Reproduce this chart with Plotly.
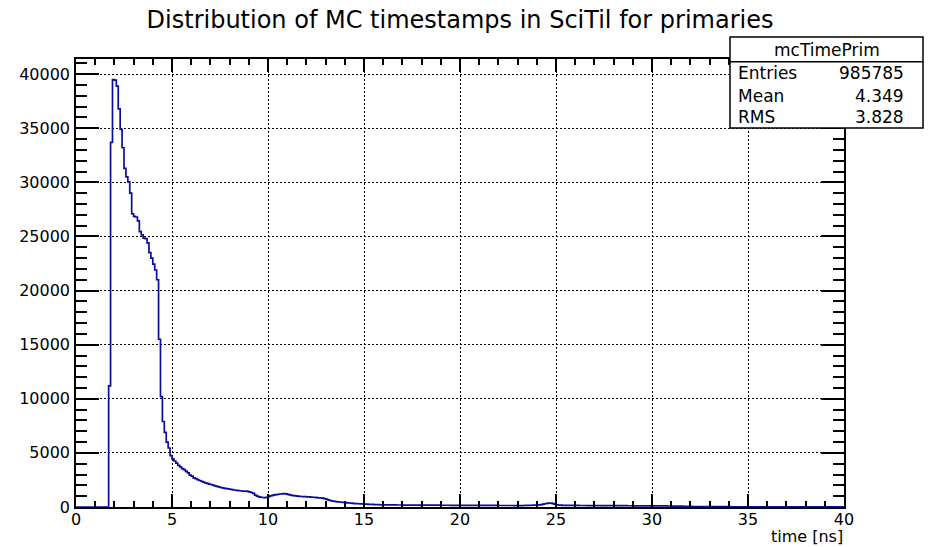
import plotly.graph_objects as go

# ---------------- data ----------------
bin_width = 0.1          # ns
x_min, x_max = 0.0, 40.0
y_max = 41400

# counts per 0.1 ns bin, one row per 1 ns
counts = [
    0, 0, 0, 0, 0, 0, 0, 0, 0, 0,                                  # 0-1
    0, 0, 0, 0, 0, 0, 0, 11200, 33700, 39500,                      # 1-2
    39450, 38900, 36800, 34900, 33200, 31300, 30500, 30050, 29000, 27100,  # 2-3
    26850, 26800, 26450, 25450, 25150, 24850, 24800, 24400, 23500, 23000,  # 3-4
    22450, 21900, 21000, 15500, 10200, 7900, 6900, 6000, 5450, 4750,       # 4-5
    4450, 4250, 4050, 3850, 3700, 3550, 3450, 3300, 3150, 2950,    # 5-6
    2850, 2700, 2620, 2530, 2450, 2380, 2300, 2230, 2180, 2120,    # 6-7
    2080, 2020, 1950, 1900, 1860, 1800, 1760, 1720, 1700, 1680,    # 7-8
    1640, 1600, 1570, 1550, 1520, 1500, 1480, 1470, 1460, 1440,    # 8-9
    1400, 1340, 1250, 1100, 1000, 930, 900, 880, 870, 890,         # 9-10
    960, 1030, 1080, 1120, 1150, 1180, 1200, 1220, 1230, 1210,     # 10-11
    1170, 1120, 1080, 1050, 1030, 1010, 990, 970, 960, 950,        # 11-12
    940, 930, 920, 900, 890, 870, 850, 840, 820, 780,              # 12-13
    720, 660, 600, 560, 530, 500, 480, 460, 440, 420,              # 13-14
    400, 380, 370, 350, 340, 320, 310, 300, 290, 280,              # 14-15
    270, 260, 250, 240, 235, 225, 220, 215, 210, 205,              # 15-16
    200, 198, 196, 194, 192, 190, 188, 187, 186, 185,              # 16-17
    184, 182, 181, 180, 179, 178, 177, 176, 175, 174,              # 17-18
    173, 172, 171, 170, 169, 168, 167, 166, 165, 164,              # 18-19
    163, 162, 161, 160, 160, 159, 158, 157, 156, 155,              # 19-20
    155, 154, 153, 152, 151, 150, 150, 149, 148, 147,              # 20-21
    147, 146, 145, 145, 144, 143, 143, 142, 141, 141,              # 21-22
    140, 140, 139, 139, 138, 138, 137, 137, 136, 136,              # 22-23
    136, 135, 135, 140, 145, 150, 155, 160, 170, 175,              # 23-24
    185, 200, 225, 260, 300, 340, 360, 350, 310, 260,              # 24-25
    210, 180, 165, 155, 150, 148, 146, 145, 144, 143,              # 25-26
    142, 141, 140, 139, 138, 137, 136, 135, 134, 133,              # 26-27
    132, 131, 130, 130, 129, 128, 127, 126, 125, 124,              # 27-28
    123, 122, 121, 120, 120, 119, 118, 117, 116, 115,              # 28-29
    114, 113, 112, 111, 110, 110, 109, 108, 107, 106,              # 29-30
    105, 104, 103, 102, 101, 100, 98, 96, 94, 92,                  # 30-31
    90, 88, 85, 82, 78, 74, 70, 65, 60, 55,                        # 31-32
    50, 46, 42, 40, 38, 36, 35, 34, 33, 32,                        # 32-33
    31, 30, 30, 29, 29, 28, 28, 27, 27, 26,                        # 33-34
    26, 25, 25, 25, 24, 24, 24, 23, 23, 23,                        # 34-35
    22, 22, 22, 21, 21, 21, 20, 20, 20, 20,                        # 35-36
    19, 19, 19, 19, 18, 18, 18, 18, 17, 17,                        # 36-37
    17, 17, 16, 16, 16, 16, 15, 15, 15, 15,                        # 37-38
    14, 14, 14, 14, 13, 13, 13, 13, 12, 12,                        # 38-39
    12, 12, 11, 11, 11, 11, 10, 10, 10, 10,                        # 39-40
]

x_ticks = [0, 5, 10, 15, 20, 25, 30, 35, 40]
y_ticks = [0, 5000, 10000, 15000, 20000, 25000, 30000, 35000, 40000]

title_text = "Distribution of MC timestamps in SciTil for primaries"
x_title = "time [ns]"
stats_name = "mcTimePrim"
stats_labels = ["Entries", "Mean", "RMS"]
stats_values = ["985785", "4.349", "3.828"]

# ---------------- figure ----------------
edges = [round(x_min + i * bin_width, 4) for i in range(len(counts) + 1)]
ys = counts + [counts[-1]]

FONT = "DejaVu Sans"
W, H = 934, 547
ML, MR, MT, MB = 76, 90, 59, 40
PW, PH = W - ML - MR, H - MT - MB

fig = go.Figure()
fig.add_trace(go.Scatter(
    x=edges, y=ys, mode="lines", line=dict(shape="hv", color="#0c0c9c", width=1.7),
    hoverinfo="skip", showlegend=False,
))

axis_common = dict(
    showline=True, linecolor="black", linewidth=1.5, mirror="allticks",
    ticks="inside", tickcolor="black", tickwidth=1.5,
    showgrid=True, gridcolor="black", gridwidth=1, griddash="2px,2px",
    zeroline=False, tickfont=dict(family=FONT, size=16, color="black"),
)

fig.update_xaxes(
    range=[x_min, x_max], tickvals=x_ticks, ticktext=[str(v) for v in x_ticks],
    ticklen=13, ticklabelstandoff=-3,
    minor=dict(dtick=1, ticks="inside", ticklen=6.5, tickwidth=1.5, tickcolor="black", showgrid=False),
    **axis_common,
)
fig.update_yaxes(
    range=[0, y_max], tickvals=y_ticks, ticktext=[str(v) for v in y_ticks],
    ticklen=23, ticklabelstandoff=1,
    minor=dict(dtick=1000, ticks="inside", ticklen=11.5, tickwidth=1.5, tickcolor="black", showgrid=False),
    **axis_common,
)

def px_x(x):
    return (x - ML) / PW

def px_y(y):
    return (H - MB - y) / PH

annotations = []
# x-axis title (ROOT style, right aligned)
annotations.append(dict(
    text=x_title, xref="paper", yref="paper", x=1.0, y=px_y(536),
    xanchor="right", yanchor="middle", showarrow=False, borderpad=0,
    font=dict(family=FONT, size=16, color="black"),
))

# stats box
bx0, bx1, by0, by1, bsep = 730, 923, 37, 128, 61.7
shapes = [
    dict(type="rect", xref="paper", yref="paper",
         x0=px_x(bx0), x1=px_x(bx1), y0=px_y(by1), y1=px_y(by0),
         line=dict(color="black", width=1.5), fillcolor="white", layer="above"),
    dict(type="line", xref="paper", yref="paper",
         x0=px_x(bx0), x1=px_x(bx1), y0=px_y(bsep), y1=px_y(bsep),
         line=dict(color="black", width=1.5), layer="above"),
]
annotations.append(dict(
    text=stats_name, xref="paper", yref="paper", x=px_x((bx0 + bx1) / 2), y=px_y(50),
    xanchor="center", yanchor="middle", showarrow=False,
    font=dict(family=FONT, size=17, color="black"),
))
row_y = [73, 95.5, 117]
for lab, val, yy in zip(stats_labels, stats_values, row_y):
    annotations.append(dict(
        text=lab, xref="paper", yref="paper", x=px_x(736), y=px_y(yy),
        xanchor="left", yanchor="middle", showarrow=False,
        font=dict(family=FONT, size=17, color="black"),
    ))
    annotations.append(dict(
        text=val, xref="paper", yref="paper", x=px_x(906), y=px_y(yy),
        xanchor="right", yanchor="middle", showarrow=False,
        font=dict(family=FONT, size=17, color="black"),
    ))

fig.update_layout(
    width=W, height=H,
    margin=dict(l=ML, r=MR, t=MT, b=MB, pad=0),
    paper_bgcolor="white", plot_bgcolor="white",
    title=dict(text=title_text, x=460 / W, xanchor="center", y=1 - 20 / H, yanchor="middle",
               font=dict(family=FONT, size=24, color="black")),
    shapes=shapes, annotations=annotations,
    showlegend=False,
)

fig.write_html("out.html")
